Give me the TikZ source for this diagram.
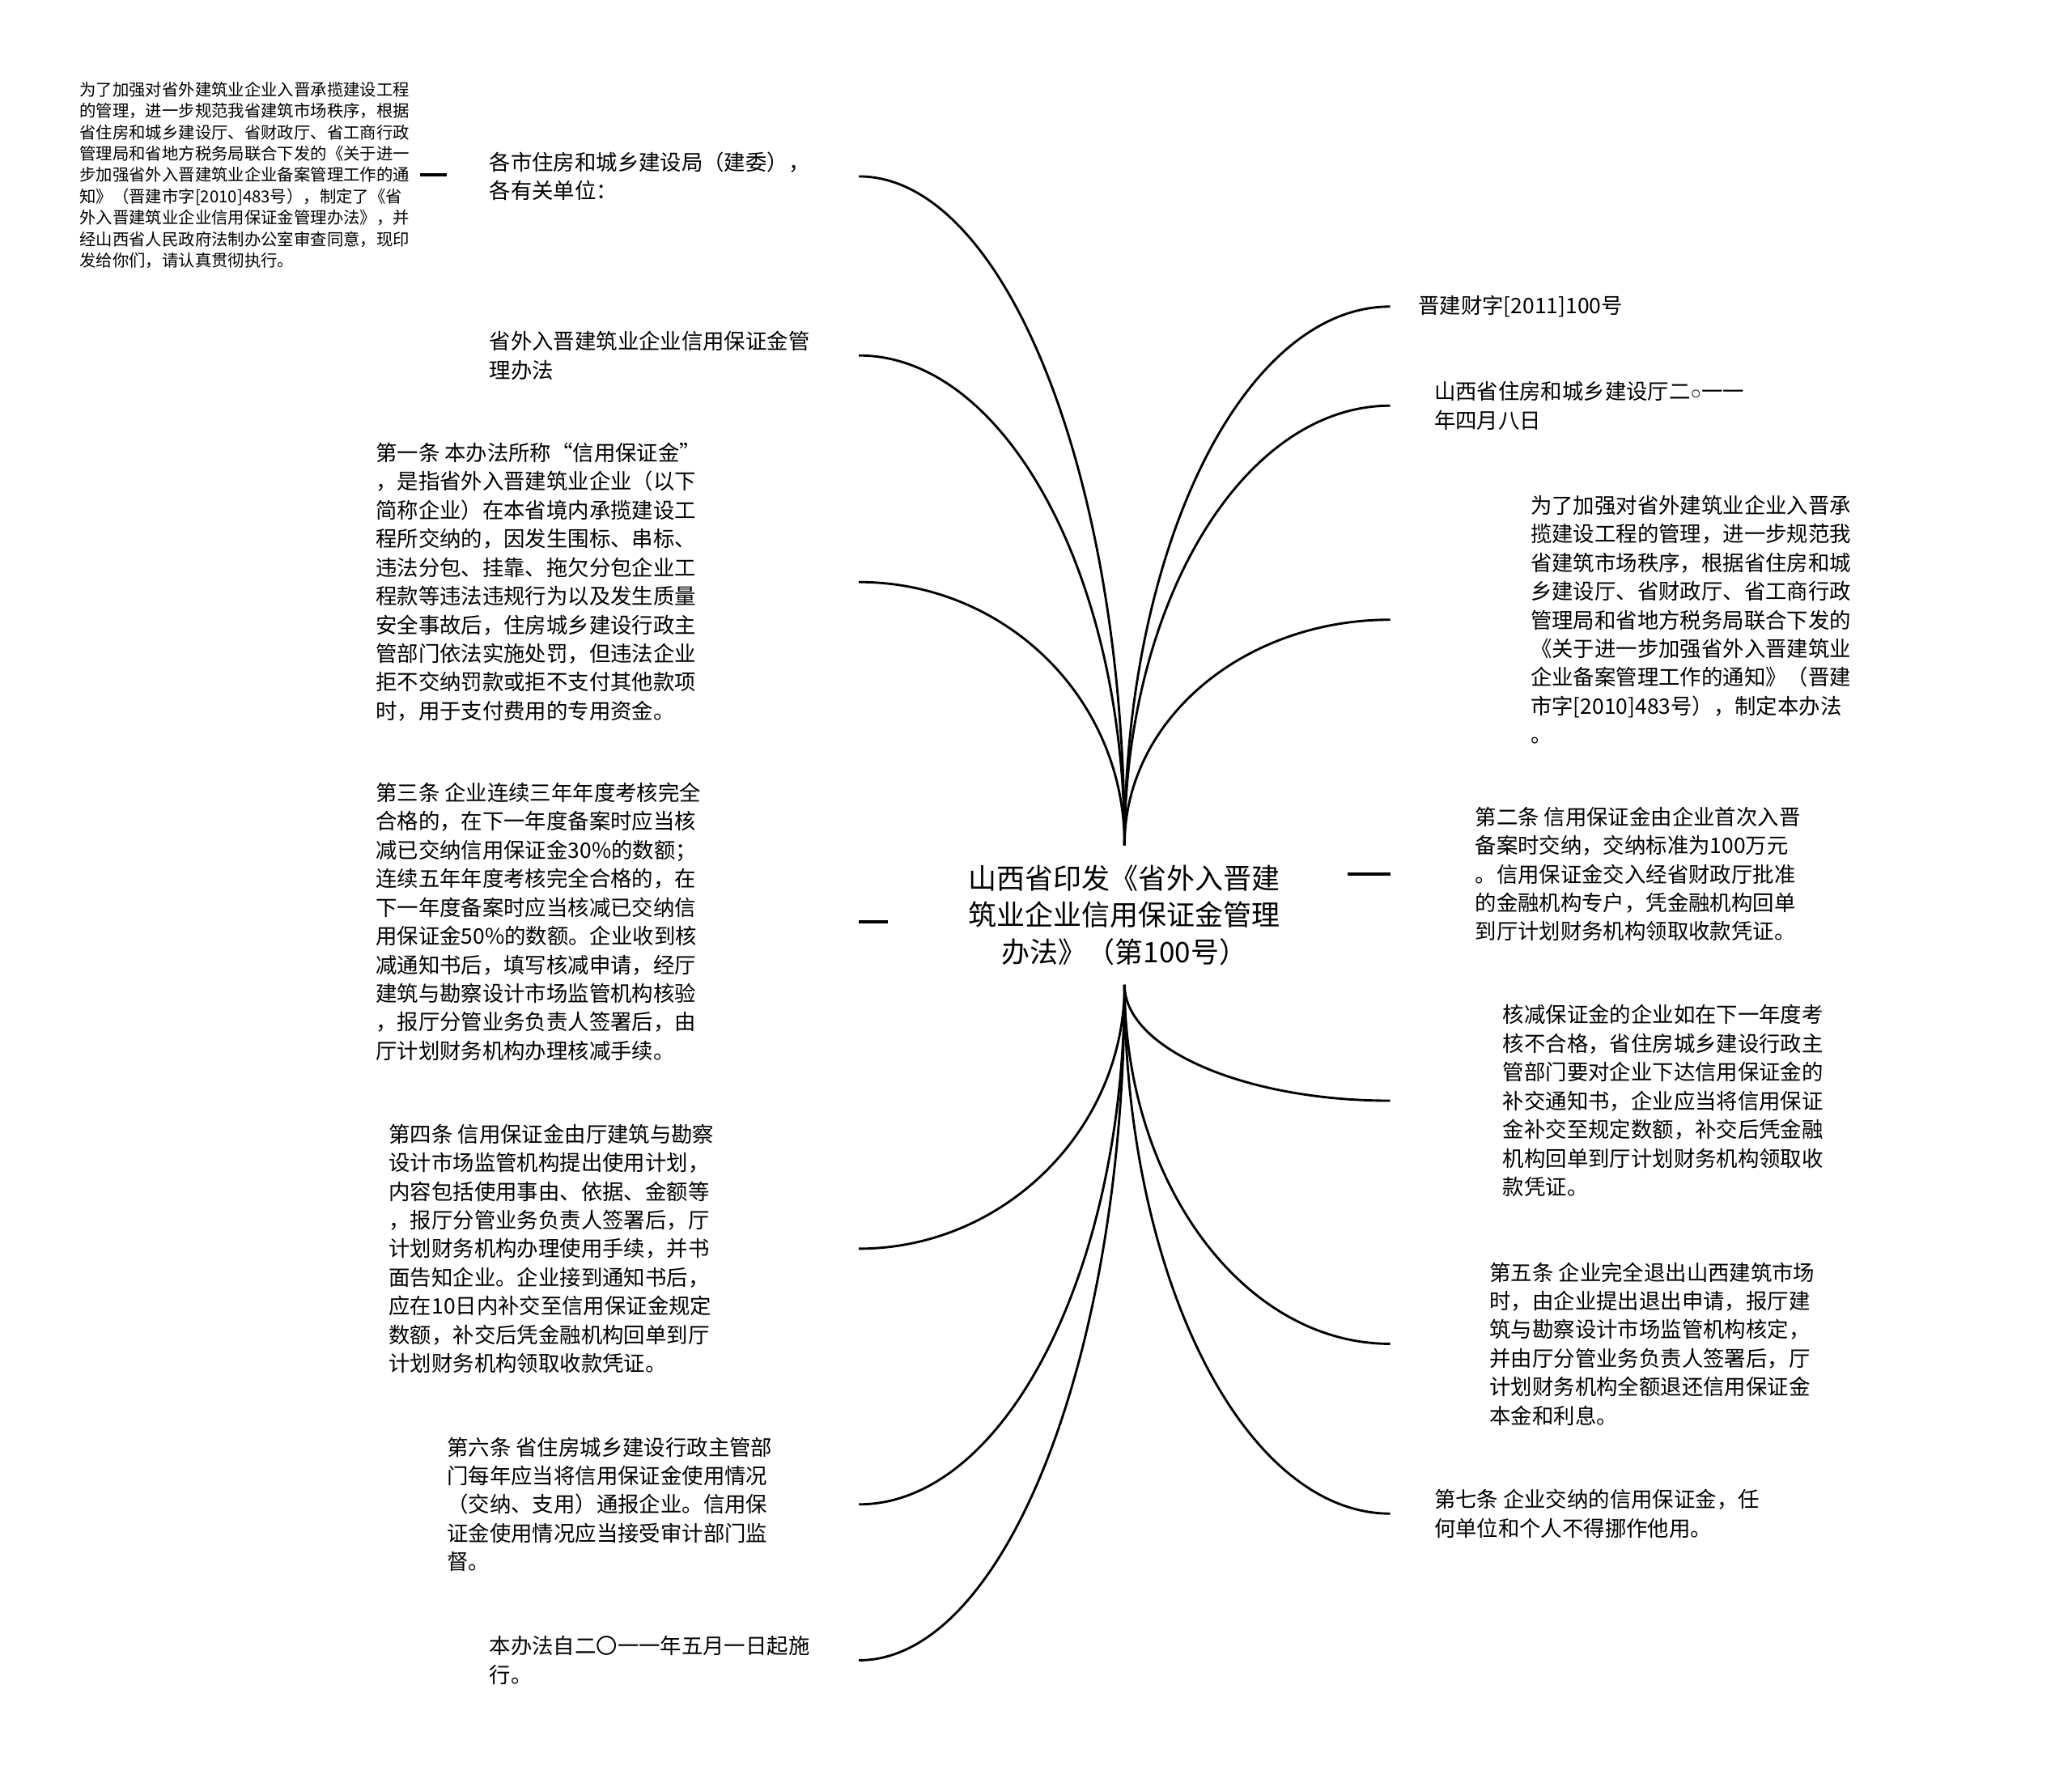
\documentclass[tikz,border=0pt]{standalone}
\usepackage{fontspec}
\setmainfont{Noto Sans CJK SC}
\newfontfamily\symbolfont{Liberation Sans}
\usepackage{tikz}

\begin{document}
\begin{tikzpicture}[x=0.02cm, y=-0.02cm,
  leaf/.style={anchor=west, align=left, inner sep=0pt, font=\fontsize{9.2}{12.35}\selectfont},
  note/.style={anchor=west, align=left, inner sep=0pt, font=\fontsize{7.1}{9.2}\selectfont},
  branch/.style={line width=1pt},
  tick/.style={line width=1.3pt}]
  \useasboundingbox (0,0) rectangle (1568,1339);

  % Root
  \node[align=center, inner sep=0pt, minimum height=2.1cm, font=\fontsize{12.2}{15.9}\selectfont] (root) at (851,692.5) {山西省印发《省外入晋建\\筑业企业信用保证金管理\\办法》（第100号）};

  % Left side
  \node[note] (intro) at (60,132.5) {为了加强对省外建筑业企业入晋承揽建设工程\\的管理，进一步规范我省建筑市场秩序，根据\\省住房和城乡建设厅、省财政厅、省工商行政\\管理局和省地方税务局联合下发的《关于进一\\步加强省外入晋建筑业企业备案管理工作的通\\知》（晋建市字[2010]483号），制定了《省\\外入晋建筑业企业信用保证金管理办法》，并\\经山西省人民政府法制办公室审查同意，现印\\发给你们，请认真贯彻执行。};
  \node[leaf] (gov) at (370,133.5) {各市住房和城乡建设局（建委），\\各有关单位：};
  \node[leaf] (title) at (370,269) {省外入晋建筑业企业信用保证金管\\理办法};
  \node[leaf] (art1) at (284,440.5) {第一条 本办法所称“信用保证金”\\，是指省外入晋建筑业企业（以下\\简称企业）在本省境内承揽建设工\\程所交纳的，因发生围标、串标、\\违法分包、挂靠、拖欠分包企业工\\程款等违法违规行为以及发生质量\\安全事故后，住房城乡建设行政主\\管部门依法实施处罚，但违法企业\\拒不交纳罚款或拒不支付其他款项\\时，用于支付费用的专用资金。};
  \node[leaf] (art3) at (284,697.5) {第三条 企业连续三年年度考核完全\\合格的，在下一年度备案时应当核\\减已交纳信用保证金30\%的数额；\\连续五年年度考核完全合格的，在\\下一年度备案时应当核减已交纳信\\用保证金50\%的数额。企业收到核\\减通知书后，填写核减申请，经厅\\建筑与勘察设计市场监管机构核验\\，报厅分管业务负责人签署后，由\\厅计划财务机构办理核减手续。};
  \node[leaf] (art4) at (294,945) {第四条 信用保证金由厅建筑与勘察\\设计市场监管机构提出使用计划，\\内容包括使用事由、依据、金额等\\，报厅分管业务负责人签署后，厅\\计划财务机构办理使用手续，并书\\面告知企业。企业接到通知书后，\\应在10日内补交至信用保证金规定\\数额，补交后凭金融机构回单到厅\\计划财务机构领取收款凭证。};
  \node[leaf] (art6) at (338,1138.5) {第六条 省住房城乡建设行政主管部\\门每年应当将信用保证金使用情况\\（交纳、支用）通报企业。信用保\\证金使用情况应当接受审计部门监\\督。};
  \node[leaf] (effect) at (370,1256.5) {本办法自二〇一一年五月一日起施\\行。};

  % Right side
  \node[leaf] (docno) at (1073,232) {晋建财字[2011]100号};
  \node[leaf] (dept) at (1085,307) {山西省住房和城乡建设厅二{\symbolfont\fontsize{7.8}{12.35}\selectfont ○}一一\\年四月八日};
  \node[leaf] (purpose) at (1158,469) {为了加强对省外建筑业企业入晋承\\揽建设工程的管理，进一步规范我\\省建筑市场秩序，根据省住房和城\\乡建设厅、省财政厅、省工商行政\\管理局和省地方税务局联合下发的\\《关于进一步加强省外入晋建筑业\\企业备案管理工作的通知》（晋建\\市字[2010]483号），制定本办法\\。};
  \node[leaf] (art2) at (1116,661.5) {第二条 信用保证金由企业首次入晋\\备案时交纳，交纳标准为100万元\\。信用保证金交入经省财政厅批准\\的金融机构专户，凭金融机构回单\\到厅计划财务机构领取收款凭证。};
  \node[leaf] (reduce) at (1137,833) {核减保证金的企业如在下一年度考\\核不合格，省住房城乡建设行政主\\管部门要对企业下达信用保证金的\\补交通知书，企业应当将信用保证\\金补交至规定数额，补交后凭金融\\机构回单到厅计划财务机构领取收\\款凭证。};
  \node[leaf] (art5) at (1127,1017) {第五条 企业完全退出山西建筑市场\\时，由企业提出退出申请，报厅建\\筑与勘察设计市场监管机构核定，\\并由厅分管业务负责人签署后，厅\\计划财务机构全额退还信用保证金\\本金和利息。};
  \node[leaf] (art7) at (1085,1145.5) {第七条 企业交纳的信用保证金，任\\何单位和个人不得挪作他用。};

  % Connector ends
  \coordinate (intro end) at (intro.west -| 318,0);
  \coordinate (gov end) at (gov.west -| 650,0);
  \coordinate (title end) at (title.west -| 650,0);
  \coordinate (art1 end) at (art1.west -| 650,0);
  \coordinate (art3 end) at (art3.west -| 650,0);
  \coordinate (art4 end) at (art4.west -| 650,0);
  \coordinate (art6 end) at (art6.west -| 650,0);
  \coordinate (effect end) at (effect.west -| 650,0);
  \coordinate (docno end) at (docno.west -| 1052,0);
  \coordinate (dept end) at (dept.west -| 1052,0);
  \coordinate (purpose end) at (purpose.west -| 1052,0);
  \coordinate (art2 end) at (art2.west -| 1052,0);
  \coordinate (reduce end) at (reduce.west -| 1052,0);
  \coordinate (art5 end) at (art5.west -| 1052,0);
  \coordinate (art7 end) at (art7.west -| 1052,0);

  % Branches above the root
  \draw[branch] (root.north) .. controls +(0,-280) and +(110,0) .. (gov end);
  \draw[branch] (root.north) .. controls +(0,-205) and +(110,0) .. (title end);
  \draw[branch] (root.north) .. controls +(0,-112) and +(110,0) .. (art1 end);
  \draw[branch] (root.north) .. controls +(0,-225) and +(-111,0) .. (docno end);
  \draw[branch] (root.north) .. controls +(0,-184) and +(-111,0) .. (dept end);
  \draw[branch] (root.north) .. controls +(0,-95) and +(-111,0) .. (purpose end);

  % Branches below the root
  \draw[branch] (root.south) .. controls +(0,109) and +(110,0) .. (art4 end);
  \draw[branch] (root.south) .. controls +(0,217) and +(110,0) .. (art6 end);
  \draw[branch] (root.south) .. controls +(0,281) and +(110,0) .. (effect end);
  \draw[branch] (root.south) .. controls +(0,48) and +(-111,0) .. (reduce end);
  \draw[branch] (root.south) .. controls +(0,150) and +(-111,0) .. (art5 end);
  \draw[branch] (root.south) .. controls +(0,220) and +(-111,0) .. (art7 end);

  % Short ticks
  \draw[tick] (intro end) -- +(20,0);
  \draw[tick] (art3 end) -- +(22,0);
  \draw[tick] (art2 end) -- +(-32,0);
\end{tikzpicture}
\end{document}
